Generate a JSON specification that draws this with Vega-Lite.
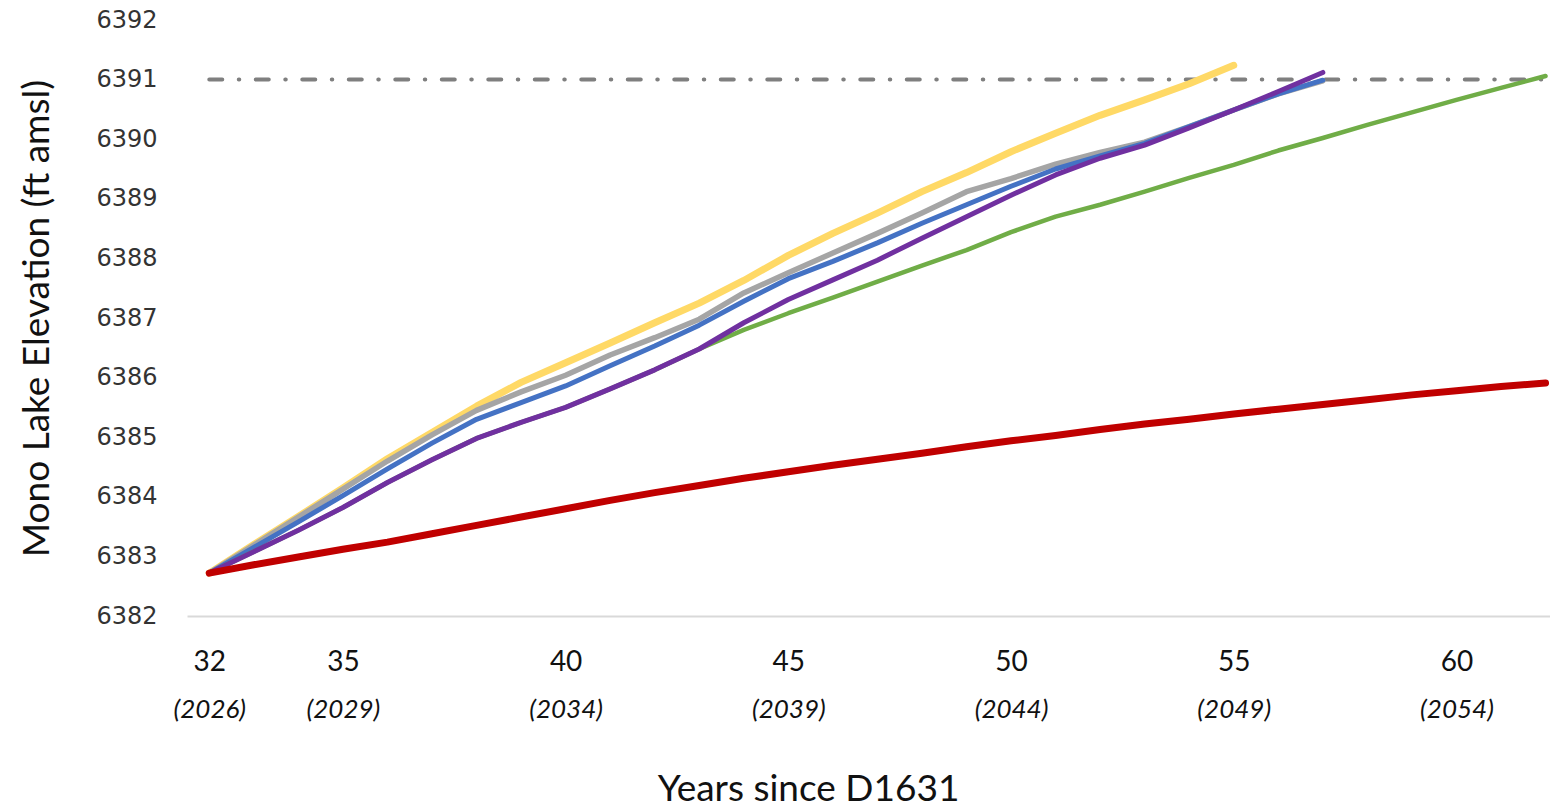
{
  "$schema": "https://vega.github.io/schema/vega-lite/v6.json",
  "autosize": {"type": "none"},
  "width": 1363,
  "height": 596,
  "padding": {"left": 187, "top": 20, "right": 0, "bottom": 195},
  "background": "white",
  "config": {"view": {"stroke": null}, "axis": {"grid": false, "ticks": false}},
  "datasets": {
    "lines": [
      {"series":"Scenario Y","year":32,"elev":6382.72},{"series":"Scenario Y","year":33,"elev":6383.20},{"series":"Scenario Y","year":34,"elev":6383.67},{"series":"Scenario Y","year":35,"elev":6384.15},{"series":"Scenario Y","year":36,"elev":6384.64},{"series":"Scenario Y","year":37,"elev":6385.08},{"series":"Scenario Y","year":38,"elev":6385.52},{"series":"Scenario Y","year":39,"elev":6385.92},{"series":"Scenario Y","year":40,"elev":6386.25},{"series":"Scenario Y","year":41,"elev":6386.58},{"series":"Scenario Y","year":42,"elev":6386.92},{"series":"Scenario Y","year":43,"elev":6387.25},{"series":"Scenario Y","year":44,"elev":6387.63},{"series":"Scenario Y","year":45,"elev":6388.05},{"series":"Scenario Y","year":46,"elev":6388.42},{"series":"Scenario Y","year":47,"elev":6388.76},{"series":"Scenario Y","year":48,"elev":6389.12},{"series":"Scenario Y","year":49,"elev":6389.44},{"series":"Scenario Y","year":50,"elev":6389.79},{"series":"Scenario Y","year":51,"elev":6390.10},{"series":"Scenario Y","year":52,"elev":6390.40},{"series":"Scenario Y","year":53,"elev":6390.66},{"series":"Scenario Y","year":54,"elev":6390.93},{"series":"Scenario Y","year":55,"elev":6391.24},
      {"series":"Scenario G","year":32,"elev":6382.72},{"series":"Scenario G","year":33,"elev":6383.19},{"series":"Scenario G","year":34,"elev":6383.66},{"series":"Scenario G","year":35,"elev":6384.13},{"series":"Scenario G","year":36,"elev":6384.60},{"series":"Scenario G","year":37,"elev":6385.04},{"series":"Scenario G","year":38,"elev":6385.45},{"series":"Scenario G","year":39,"elev":6385.76},{"series":"Scenario G","year":40,"elev":6386.04},{"series":"Scenario G","year":41,"elev":6386.38},{"series":"Scenario G","year":42,"elev":6386.67},{"series":"Scenario G","year":43,"elev":6386.98},{"series":"Scenario G","year":44,"elev":6387.42},{"series":"Scenario G","year":45,"elev":6387.76},{"series":"Scenario G","year":46,"elev":6388.09},{"series":"Scenario G","year":47,"elev":6388.42},{"series":"Scenario G","year":48,"elev":6388.76},{"series":"Scenario G","year":49,"elev":6389.12},{"series":"Scenario G","year":50,"elev":6389.34},{"series":"Scenario G","year":51,"elev":6389.58},{"series":"Scenario G","year":52,"elev":6389.78},{"series":"Scenario G","year":53,"elev":6389.95},{"series":"Scenario G","year":54,"elev":6390.21},{"series":"Scenario G","year":55,"elev":6390.49},{"series":"Scenario G","year":56,"elev":6390.76},{"series":"Scenario G","year":57,"elev":6390.98},
      {"series":"Scenario B","year":32,"elev":6382.72},{"series":"Scenario B","year":33,"elev":6383.15},{"series":"Scenario B","year":34,"elev":6383.58},{"series":"Scenario B","year":35,"elev":6384.02},{"series":"Scenario B","year":36,"elev":6384.47},{"series":"Scenario B","year":37,"elev":6384.90},{"series":"Scenario B","year":38,"elev":6385.30},{"series":"Scenario B","year":39,"elev":6385.58},{"series":"Scenario B","year":40,"elev":6385.86},{"series":"Scenario B","year":41,"elev":6386.20},{"series":"Scenario B","year":42,"elev":6386.53},{"series":"Scenario B","year":43,"elev":6386.88},{"series":"Scenario B","year":44,"elev":6387.28},{"series":"Scenario B","year":45,"elev":6387.66},{"series":"Scenario B","year":46,"elev":6387.95},{"series":"Scenario B","year":47,"elev":6388.26},{"series":"Scenario B","year":48,"elev":6388.59},{"series":"Scenario B","year":49,"elev":6388.90},{"series":"Scenario B","year":50,"elev":6389.21},{"series":"Scenario B","year":51,"elev":6389.50},{"series":"Scenario B","year":52,"elev":6389.72},{"series":"Scenario B","year":53,"elev":6389.93},{"series":"Scenario B","year":54,"elev":6390.21},{"series":"Scenario B","year":55,"elev":6390.49},{"series":"Scenario B","year":56,"elev":6390.76},{"series":"Scenario B","year":57,"elev":6390.99},
      {"series":"Scenario Gr","year":32,"elev":6382.72},{"series":"Scenario Gr","year":33,"elev":6383.08},{"series":"Scenario Gr","year":34,"elev":6383.44},{"series":"Scenario Gr","year":35,"elev":6383.82},{"series":"Scenario Gr","year":36,"elev":6384.24},{"series":"Scenario Gr","year":37,"elev":6384.62},{"series":"Scenario Gr","year":38,"elev":6384.98},{"series":"Scenario Gr","year":39,"elev":6385.25},{"series":"Scenario Gr","year":40,"elev":6385.50},{"series":"Scenario Gr","year":41,"elev":6385.81},{"series":"Scenario Gr","year":42,"elev":6386.13},{"series":"Scenario Gr","year":43,"elev":6386.48},{"series":"Scenario Gr","year":44,"elev":6386.80},{"series":"Scenario Gr","year":45,"elev":6387.08},{"series":"Scenario Gr","year":46,"elev":6387.34},{"series":"Scenario Gr","year":47,"elev":6387.61},{"series":"Scenario Gr","year":48,"elev":6387.88},{"series":"Scenario Gr","year":49,"elev":6388.14},{"series":"Scenario Gr","year":50,"elev":6388.44},{"series":"Scenario Gr","year":51,"elev":6388.70},{"series":"Scenario Gr","year":52,"elev":6388.90},{"series":"Scenario Gr","year":53,"elev":6389.12},{"series":"Scenario Gr","year":54,"elev":6389.35},{"series":"Scenario Gr","year":55,"elev":6389.57},{"series":"Scenario Gr","year":56,"elev":6389.81},{"series":"Scenario Gr","year":57,"elev":6390.02},{"series":"Scenario Gr","year":58,"elev":6390.24},{"series":"Scenario Gr","year":59,"elev":6390.45},{"series":"Scenario Gr","year":60,"elev":6390.66},{"series":"Scenario Gr","year":61,"elev":6390.86},{"series":"Scenario Gr","year":62,"elev":6391.06},
      {"series":"Scenario P","year":32,"elev":6382.72},{"series":"Scenario P","year":33,"elev":6383.08},{"series":"Scenario P","year":34,"elev":6383.44},{"series":"Scenario P","year":35,"elev":6383.82},{"series":"Scenario P","year":36,"elev":6384.24},{"series":"Scenario P","year":37,"elev":6384.62},{"series":"Scenario P","year":38,"elev":6384.98},{"series":"Scenario P","year":39,"elev":6385.25},{"series":"Scenario P","year":40,"elev":6385.50},{"series":"Scenario P","year":41,"elev":6385.81},{"series":"Scenario P","year":42,"elev":6386.13},{"series":"Scenario P","year":43,"elev":6386.48},{"series":"Scenario P","year":44,"elev":6386.92},{"series":"Scenario P","year":45,"elev":6387.31},{"series":"Scenario P","year":46,"elev":6387.64},{"series":"Scenario P","year":47,"elev":6387.97},{"series":"Scenario P","year":48,"elev":6388.34},{"series":"Scenario P","year":49,"elev":6388.70},{"series":"Scenario P","year":50,"elev":6389.06},{"series":"Scenario P","year":51,"elev":6389.40},{"series":"Scenario P","year":52,"elev":6389.68},{"series":"Scenario P","year":53,"elev":6389.90},{"series":"Scenario P","year":54,"elev":6390.19},{"series":"Scenario P","year":55,"elev":6390.49},{"series":"Scenario P","year":56,"elev":6390.80},{"series":"Scenario P","year":57,"elev":6391.12},
      {"series":"Scenario R","year":32,"elev":6382.72},{"series":"Scenario R","year":33,"elev":6382.86},{"series":"Scenario R","year":34,"elev":6382.99},{"series":"Scenario R","year":35,"elev":6383.12},{"series":"Scenario R","year":36,"elev":6383.24},{"series":"Scenario R","year":37,"elev":6383.38},{"series":"Scenario R","year":38,"elev":6383.52},{"series":"Scenario R","year":39,"elev":6383.66},{"series":"Scenario R","year":40,"elev":6383.80},{"series":"Scenario R","year":41,"elev":6383.94},{"series":"Scenario R","year":42,"elev":6384.07},{"series":"Scenario R","year":43,"elev":6384.19},{"series":"Scenario R","year":44,"elev":6384.31},{"series":"Scenario R","year":45,"elev":6384.42},{"series":"Scenario R","year":46,"elev":6384.53},{"series":"Scenario R","year":47,"elev":6384.63},{"series":"Scenario R","year":48,"elev":6384.73},{"series":"Scenario R","year":49,"elev":6384.84},{"series":"Scenario R","year":50,"elev":6384.94},{"series":"Scenario R","year":51,"elev":6385.03},{"series":"Scenario R","year":52,"elev":6385.13},{"series":"Scenario R","year":53,"elev":6385.22},{"series":"Scenario R","year":54,"elev":6385.30},{"series":"Scenario R","year":55,"elev":6385.39},{"series":"Scenario R","year":56,"elev":6385.47},{"series":"Scenario R","year":57,"elev":6385.55},{"series":"Scenario R","year":58,"elev":6385.63},{"series":"Scenario R","year":59,"elev":6385.71},{"series":"Scenario R","year":60,"elev":6385.78},{"series":"Scenario R","year":61,"elev":6385.85},{"series":"Scenario R","year":62,"elev":6385.91}
    ],
    "threshold": [
      {"year": 32, "elev": 6391},
      {"year": 62.1, "elev": 6391}
    ]
  },
  "layer": [
    {
      "data": {"name": "threshold"},
      "mark": {"type": "line", "color": "#7F7F7F", "strokeWidth": 4, "strokeCap": "round", "strokeDash": [13, 16.5, 0.5, 16.5]},
      "encoding": {
        "x": {
          "field": "year", "type": "quantitative",
          "scale": {"domain": [31.5, 62.1], "nice": false, "zero": false},
          "axis": {
            "orient": "bottom", "values": [32, 35, 40, 45, 50, 55, 60],
            "labelExpr": "'(' + (datum.value + 1994) + ')'",
            "labelFont": "Lato", "labelFontSize": 26, "labelFontStyle": "italic",
            "labelColor": "#111111", "labelPadding": 80, "domain": false, "title": null
          }
        },
        "y": {
          "field": "elev", "type": "quantitative",
          "scale": {"domain": [6382, 6392], "nice": false, "zero": false},
          "axis": {
            "values": [6382, 6383, 6384, 6385, 6386, 6387, 6388, 6389, 6390, 6391, 6392],
            "format": "d", "labelFont": "DejaVu Sans", "labelFontSize": 24, "labelColor": "#333333",
            "labelPadding": 30, "domain": false,
            "title": "Mono Lake Elevation (ft amsl)", "titleFont": "Lato", "titleFontSize": 37,
            "titleFontWeight": "normal", "titleColor": "#111111", "titleX": -150, "titleY": 298,
            "titleAngle": 270, "titleAlign": "center", "titleBaseline": "middle"
          }
        }
      }
    },
    {
      "data": {"name": "lines"},
      "mark": {"type": "line", "strokeCap": "round", "strokeJoin": "round"},
      "encoding": {
        "x": {
          "field": "year", "type": "quantitative",
          "scale": {"domain": [31.5, 62.1], "nice": false, "zero": false},
          "axis": {
            "orient": "bottom", "values": [32, 35, 40, 45, 50, 55, 60], "format": "d",
            "labelFont": "Lato", "labelFontSize": 28, "labelColor": "#111111", "labelPadding": 32,
            "domain": true, "domainColor": "#D9D9D9", "domainWidth": 2,
            "title": "Years since D1631", "titleFont": "Lato", "titleFontSize": 37,
            "titleFontWeight": "normal", "titleColor": "#111111",
            "titleX": 621, "titleY": 155, "titleAlign": "center", "titleBaseline": "top"
          }
        },
        "y": {
          "field": "elev", "type": "quantitative",
          "scale": {"domain": [6382, 6392], "nice": false, "zero": false}
        },
        "color": {
          "field": "series", "type": "nominal",
          "scale": {
            "domain": ["Scenario Y", "Scenario G", "Scenario B", "Scenario Gr", "Scenario P", "Scenario R"],
            "range": ["#FFD966", "#A5A5A5", "#4472C4", "#70AD47", "#7030A0", "#C00000"]
          },
          "legend": null
        },
        "strokeWidth": {
          "field": "series", "type": "nominal",
          "scale": {
            "type": "ordinal",
            "domain": ["Scenario Y", "Scenario G", "Scenario B", "Scenario Gr", "Scenario P", "Scenario R"],
            "range": [7, 5.5, 5, 4.5, 5, 7]
          },
          "legend": null
        }
      }
    }
  ],
  "resolve": {"axis": {"x": "independent"}}
}
